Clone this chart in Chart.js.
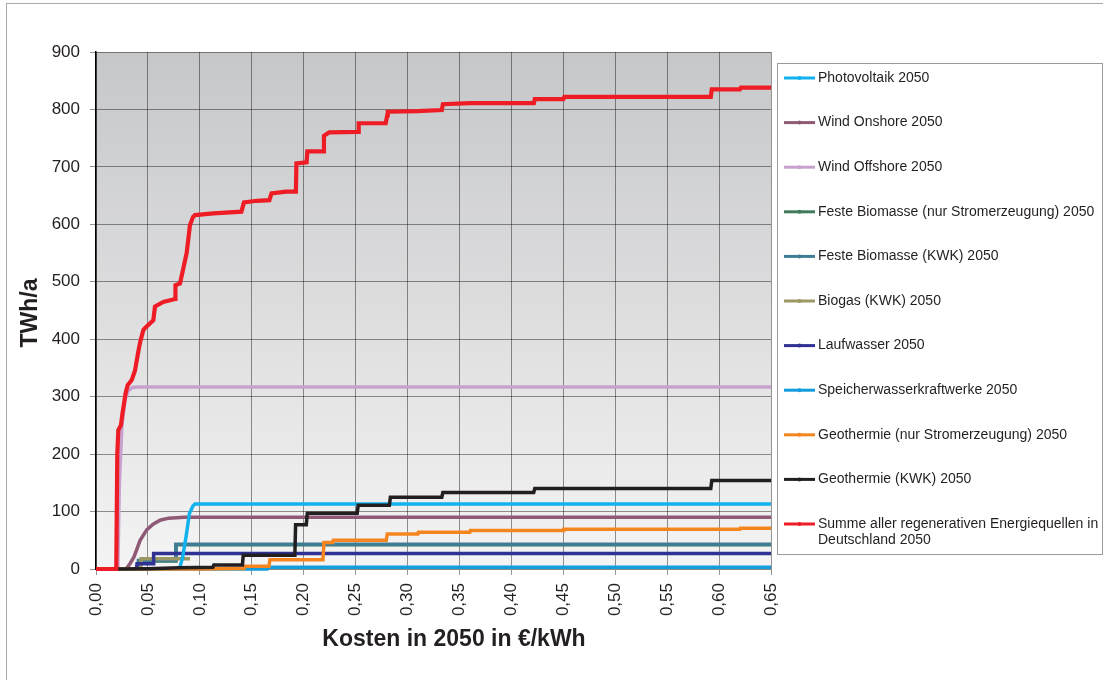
<!DOCTYPE html>
<html>
<head>
<meta charset="utf-8">
<script src="https://cdn.jsdelivr.net/npm/chart.js@4.4.1/dist/chart.umd.min.js"></script>
<style>
  html, body { margin: 0; padding: 0; background: #fff; }
  #wrap { width: 1103px; height: 680px; position: relative; }
</style>
</head>
<body>
<div id="wrap"><canvas id="chart"></canvas></div>
<script>
// tick labels
const xTickStep = 0.05;
const yTickStep = 100;

// series: x = Kosten in €/kWh, y = TWh/a
const pvX = [0, 0.080, 0.081, 0.0835, 0.0867, 0.090, 0.0935, 0.0953, 0.65];
const pvY = [0, 0, 4, 21, 56, 97, 110, 113, 113];

const onshoreX = [0, 0.029, 0.033, 0.0366, 0.0425, 0.0488, 0.055, 0.0617, 0.070, 0.085, 0.65];
const onshoreY = [0, 0, 10, 21, 50, 68, 78, 85, 88.5, 90, 90];

const offshoreX = [0, 0.021, 0.0225, 0.025, 0.028, 0.031, 0.035, 0.040, 0.65];
const offshoreY = [0, 0, 150, 250, 295, 310, 316, 317, 317];

const bioStromX = [0, 0.0405, 0.041, 0.0765, 0.077, 0.65];
const bioStromY = [0, 0, 14, 14, 42, 42];

const bioKwkX = [0, 0.0405, 0.041, 0.0765, 0.077, 0.65];
const bioKwkY = [0, 0, 15, 15, 43, 43];

const biogasX = [0, 0.043, 0.0435, 0.0905];
const biogasY = [0, 0, 18, 18];

const laufX = [0, 0.039, 0.0395, 0.055, 0.0555, 0.65];
const laufY = [0, 0, 9, 9, 27, 27];

const speicherX = [0, 0.165, 0.166, 0.65];
const speicherY = [0, 0, 3, 3];

const geoStromX = [0, 0.10, 0.14, 0.1425, 0.1435, 0.1665, 0.1675, 0.2185, 0.2195, 0.228, 0.2285,
  0.2795, 0.2805, 0.31, 0.3105, 0.36, 0.3605, 0.45, 0.4505, 0.62, 0.6205, 0.65];
const geoStromY = [0, 0, 1, 1, 5, 5, 16, 16, 46, 46, 50, 50, 61, 61, 64, 64, 67, 67, 69, 69, 71, 71];

const geoKwkX = [0, 0.02, 0.05, 0.08, 0.1125, 0.1135, 0.141, 0.1418, 0.1915, 0.1922, 0.2025, 0.2035,
  0.2515, 0.2525, 0.2825, 0.2835, 0.333, 0.334, 0.4215, 0.4225, 0.592, 0.593, 0.65];
const geoKwkY = [0, 0, 0.5, 2, 3, 7, 7, 24, 24, 77, 77, 97, 97, 111, 111, 125, 125, 133, 133, 140, 140, 154, 154];

const summeX = [0, 0.0195, 0.0205, 0.0215, 0.024, 0.0255, 0.0285, 0.0305, 0.0344, 0.0375, 0.0407,
  0.0425, 0.0456, 0.0475, 0.0552, 0.0568, 0.0648, 0.0761, 0.0765, 0.0809, 0.0873, 0.0905, 0.0935,
  0.0953, 0.113, 0.140, 0.1425, 0.155, 0.167, 0.169, 0.183, 0.1925, 0.193, 0.2028, 0.2035, 0.2188,
  0.2195, 0.2245, 0.2525, 0.253, 0.279, 0.2805, 0.281, 0.310, 0.333, 0.334, 0.36, 0.4217, 0.4225,
  0.45, 0.451, 0.592, 0.593, 0.620, 0.621, 0.65];
const summeY = [0, 0, 200, 242, 250, 271, 306, 320, 329, 345, 378,
  395, 416, 420, 433, 457, 465, 470, 494, 497, 550, 599, 613,
  616, 619, 622, 638, 641, 642, 654, 657, 657, 706, 708, 727, 727,
  754, 760, 761, 776, 776, 790, 796, 797, 799, 809, 811, 811, 818,
  818, 822, 822, 835, 835, 838, 838];

const pts = (xs, ys) => xs.map((x, i) => ({ x: x, y: ys[i] }));

function series(label, xs, ys, color, order, width) {
  return {
    label: label,
    data: pts(xs, ys),
    borderColor: color,
    backgroundColor: color,
    borderWidth: width || 3.5,
    pointRadius: 0,
    tension: 0,
    fill: false,
    clip: 6,
    order: order
  };
}

const datasets = [
  series("Photovoltaik 2050", pvX, pvY, "#12b2ee", 3),
  series("Wind Onshore 2050", onshoreX, onshoreY, "#8e5a76", 9),
  series("Wind Offshore 2050", offshoreX, offshoreY, "#c9a1cf", 10),
  series("Feste Biomasse (nur Stromerzeugung) 2050", bioStromX, bioStromY, "#3f7b5b", 8),
  series("Feste Biomasse (KWK) 2050", bioKwkX, bioKwkY, "#3e7d94", 7),
  series("Biogas (KWK) 2050", biogasX, biogasY, "#9b9864", 6),
  series("Laufwasser 2050", laufX, laufY, "#2f3193", 5),
  series("Speicherwasserkraftwerke 2050", speicherX, speicherY, "#139ddd", 4),
  series("Geothermie (nur Stromerzeugung) 2050", geoStromX, geoStromY, "#f5861f", 2),
  series("Geothermie (KWK) 2050", geoKwkX, geoKwkY, "#231f20", 1),
  series(["Summe aller regenerativen Energiequellen in", "Deutschland 2050"], summeX, summeY, "#ee1c25", 0, 4.2)
];

const FONT = "'Liberation Sans', Arial, sans-serif";

const deco = {
  id: "deco",
  beforeDraw(chart) {
    const { ctx, chartArea: a } = chart;
    const g = ctx.createLinearGradient(0, a.top, 0, a.bottom);
    g.addColorStop(0, "#c6c7c9");
    g.addColorStop(1, "#f4f4f4");
    ctx.save();
    ctx.fillStyle = g;
    ctx.fillRect(a.left, a.top, a.right - a.left, a.bottom - a.top);
    ctx.restore();
  },
  afterDraw(chart) {
    const { ctx } = chart;
    ctx.save();
    // outer frame
    ctx.strokeStyle = "#a9a9a9";
    ctx.lineWidth = 1;
    ctx.strokeRect(6.5, 3.5, 1300, 1000);

    // axis titles
    ctx.fillStyle = "#231f20";
    ctx.font = "bold 23px " + FONT;
    ctx.textAlign = "center";
    ctx.textBaseline = "middle";
    ctx.fillText("Kosten in 2050 in €/kWh", 454, 640);
    ctx.save();
    ctx.translate(31, 313);
    ctx.rotate(-Math.PI / 2);
    ctx.fillText("TWh/a", 0, 0);
    ctx.restore();

    // legend
    ctx.strokeStyle = "#9a9a9a";
    ctx.strokeRect(777.5, 63.5, 325, 491);
    ctx.font = "14px " + FONT;
    ctx.textAlign = "left";
    chart.data.datasets.forEach((ds, i) => {
      const y = 78 + i * 44.6;
      ctx.strokeStyle = ds.borderColor;
      ctx.lineWidth = 3;
      ctx.beginPath();
      ctx.moveTo(784, y);
      ctx.lineTo(815, y);
      ctx.stroke();
      ctx.fillStyle = ds.borderColor;
      ctx.beginPath();
      ctx.arc(799.5, y, 2, 0, Math.PI * 2);
      ctx.fill();
      ctx.fillStyle = "#231f20";
      const lines = Array.isArray(ds.label) ? ds.label : [ds.label];
      lines.forEach((t, j) => ctx.fillText(t, 818, y + j * 16));
    });
    ctx.restore();
  }
};

new Chart(document.getElementById("chart"), {
  type: "line",
  data: { datasets: datasets },
  options: {
    responsive: true,
    maintainAspectRatio: false,
    animation: false,
    devicePixelRatio: 1,
    layout: { padding: { left: 0, right: 332, top: 52, bottom: 0 } },
    plugins: { legend: { display: false }, tooltip: { enabled: false } },
    scales: {
      x: {
        type: "linear",
        min: 0,
        max: 0.65,
        afterFit: s => { s.height = 111; },
        ticks: {
          stepSize: xTickStep,
          minRotation: 90,
          maxRotation: 90,
          padding: 8,
          color: "#231f20",
          font: { size: 17, family: FONT },
          callback: v => v.toFixed(2).replace(".", ",")
        },
        grid: { color: "rgba(0,0,0,0.42)", tickLength: 6, lineWidth: 1 },
        border: { color: "#8a8a8a", width: 1 }
      },
      y: {
        min: 0,
        max: 900,
        afterFit: s => { s.width = 96; },
        ticks: {
          stepSize: yTickStep,
          padding: 10,
          color: "#231f20",
          font: { size: 17, family: FONT }
        },
        grid: { color: "rgba(0,0,0,0.42)", tickLength: 6, lineWidth: 1 },
        border: { color: "#000", width: 1.5 }
      }
    }
  },
  plugins: [deco]
});
</script>
</body>
</html>
